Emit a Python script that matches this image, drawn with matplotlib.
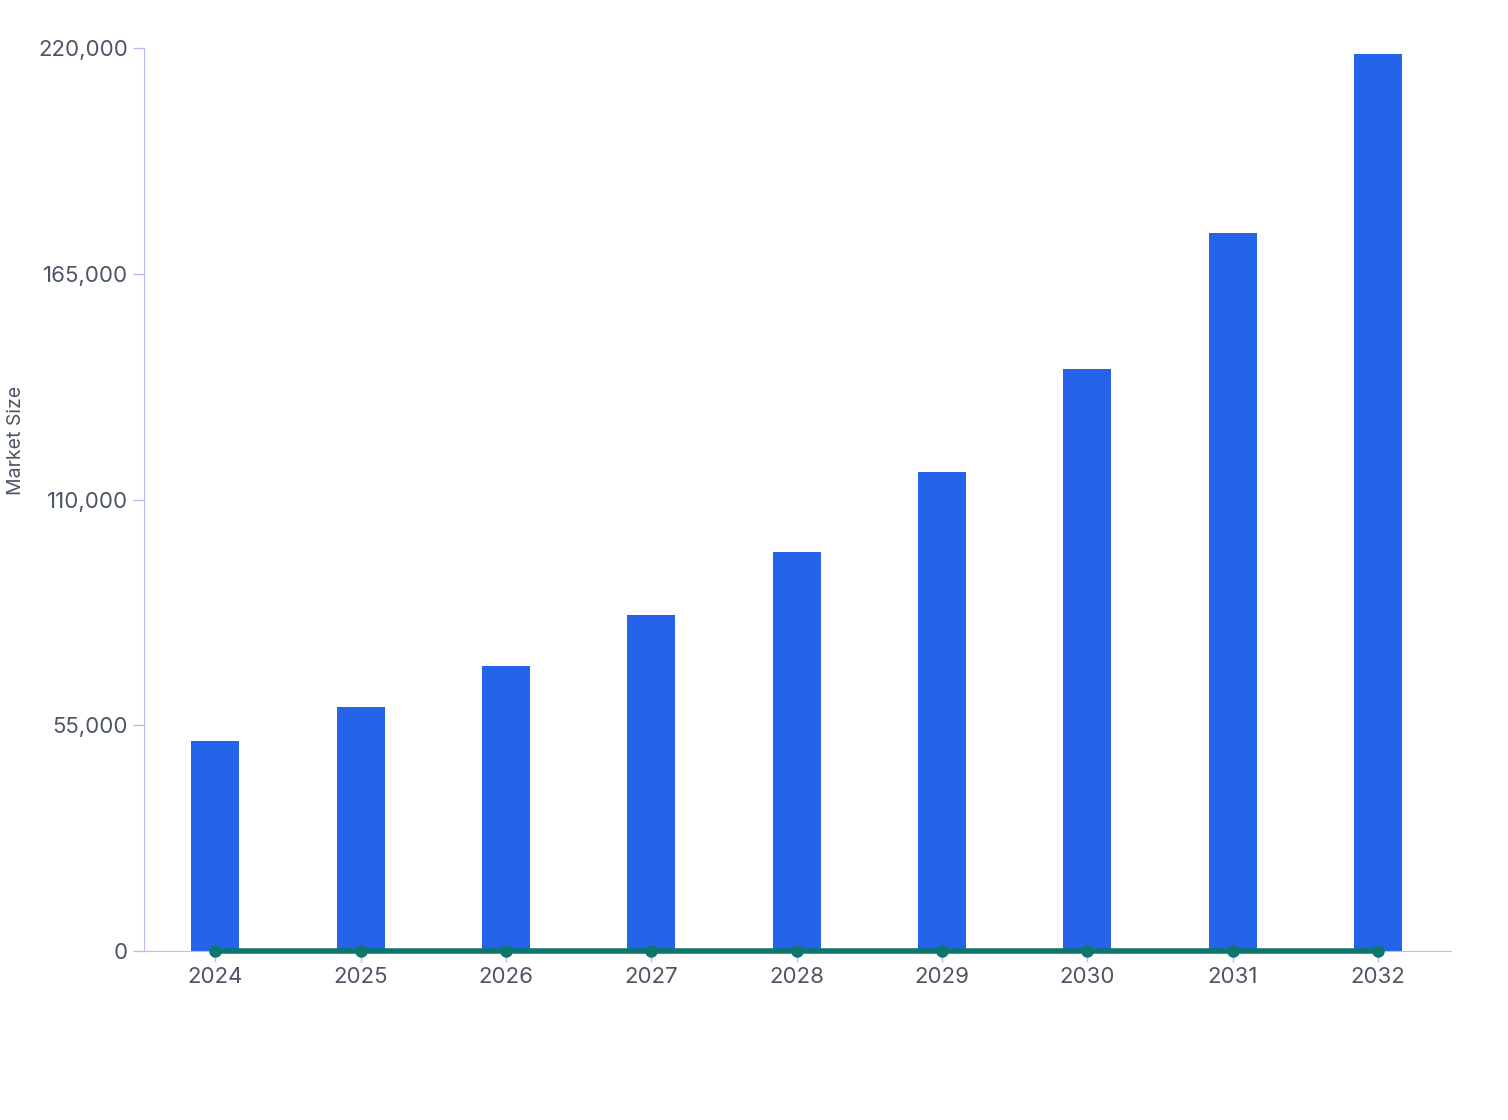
import matplotlib
matplotlib.use("Agg")
import matplotlib.pyplot as plt
from matplotlib.ticker import FuncFormatter

years = ["2024","2025","2026","2027","2028","2029","2030","2031","2032"]
market_size = [51200, 59400, 69400, 81800, 97200, 116700, 141800, 174900, 218500]
line_values = [0, 0, 0, 0, 0, 0, 0, 0, 0]
yticks = [0, 55000, 110000, 165000, 220000]

plt.rcParams['font.family'] = ['Inter', 'DejaVu Sans']
fig = plt.figure(figsize=(15.08, 11.2), dpi=100)
ax = fig.add_axes([0.0955, 0.151, 0.8665, 0.806])
x = list(range(len(years)))
ax.bar(x, market_size, width=0.33, color='#2563eb', zorder=2)
ax.plot(x, line_values, color='#0f766e', lw=4, marker='o', ms=8, zorder=3, clip_on=False)
ax.set_xlim(-0.49, 8.5)
ax.set_ylim(0, 220000)
ax.set_yticks(yticks)
ax.yaxis.set_major_formatter(FuncFormatter(lambda v, p: f"{int(v):,}"))
ax.set_xticks(x)
ax.set_xticklabels(years)
for s in ['top', 'right']:
    ax.spines[s].set_visible(False)
for s in ['left', 'bottom']:
    ax.spines[s].set_color('#b4bff0')
ax.tick_params(colors='#b4bff0', labelcolor='#4b5563', labelsize=16, length=8, width=1)
fig.text(16/1508, 1 - 440/1120, "Market Size", rotation=90, fontsize=14,
         color='#4b5563', ha='center', va='center')
fig.savefig("out.png", dpi=100, facecolor='white')
